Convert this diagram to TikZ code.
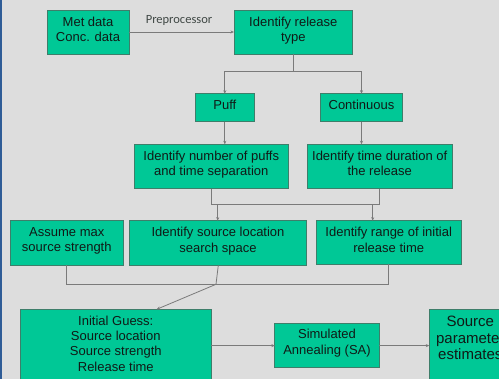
\documentclass[tikz,border=0pt]{standalone}
\usepackage{fontspec}
\setmainfont{Liberation Sans}
\newfontfamily\prepfont{Carlito}
\usetikzlibrary{arrows.meta,calc}
\definecolor{bgc}{HTML}{DDDDDD}
\definecolor{edgeblue}{HTML}{2F5C96}
\definecolor{boxfill}{HTML}{00C896}
\definecolor{boxline}{HTML}{3E7E6A}
\definecolor{linec}{HTML}{7A7A7A}
\definecolor{txtc}{HTML}{101A16}
\tikzset{
  box/.style={draw=boxline, fill=boxfill, line width=0.9pt, inner sep=0pt, outer sep=0pt},
  txt/.style={anchor=north, align=center, inner sep=0pt, text=txtc, font=\fontsize{13}{15.4}\selectfont},
  bigtxt/.style={anchor=north, align=center, inner sep=0pt, text=txtc, font=\fontsize{15}{16.5}\selectfont},
  conn/.style={draw=linec, line width=0.8pt},
  arr/.style={conn, -{Stealth[length=3.5pt,width=3pt]}},
}
\begin{document}
\begin{tikzpicture}[x=1pt,y=-1pt]
\useasboundingbox (0,0) rectangle (499,379);
\clip (0,0) rectangle (499,379);
\fill[bgc] (0,0) rectangle (499,379);
\fill[edgeblue] (0,0) rectangle (1.5,379);

% boxes
\node[box, minimum width=82, minimum height=44] (met) at (88,32) {};
\node[txt] (mett) at ($(met.north)+(0,6.6)$) {Met data\\Conc. data};
\node[box, minimum width=118.7, minimum height=44] (rel) at (293.3,32) {};
\node[txt] (relt) at ($(rel.north)+(0,6.6)$) {Identify release\\type};

\node[box, minimum width=59.7, minimum height=28] (puff) at (224.8,107.7) {};
\node[txt] (pufft) at ($(puff.north)+(0,6.2)$) {Puff};
\node[box, minimum width=82.4, minimum height=28] (cont) at (361.5,107.7) {};
\node[txt] (contt) at ($(cont.north)+(0,6.2)$) {Continuous};

\node[box, minimum width=154.7, minimum height=44.4] (num) at (211.3,166.5) {};
\node[txt] (numt) at ($(num.north)+(0,6.6)$) {Identify number of puffs\\and time separation};
\node[box, minimum width=145.3, minimum height=44.4] (dur) at (379.7,166.5) {};
\node[txt] (durt) at ($(dur.north)+(0,6.6)$) {Identify time duration of\\the release};

\node[box, minimum width=113.7, minimum height=44.6] (max) at (66.8,243) {};
\node[txt] (maxt) at ($(max.north)+(0,6.3)$) {Assume max\\source strength};
\node[box, minimum width=177.4, minimum height=44.6] (src) at (218,243) {};
\node[txt] (srct) at ($(src.north)+(0,6.3)$) {Identify source location\\search space};
\node[box, minimum width=145.3, minimum height=43.6] (rng) at (388.7,242.5) {};
\node[txt] (rngt) at ($(rng.north)+(0,6.3)$) {Identify range of initial\\release time};

\node[box, minimum width=191, minimum height=80] (init) at (115.8,349.3) {};
\node[txt] (initt) at ($(init.north)+(0,6.2)$) {Initial Guess:\\Source location\\Source strength\\Release time};
\node[box, minimum width=104.3, minimum height=44.7] (sa) at (327,345.6) {};
\node[txt] (sat) at ($(sa.north)+(0,6)$) {Simulated\\Annealing (SA)};
\node[box, minimum width=82, minimum height=80] (est) at (470.3,349.3) {};
\node[bigtxt] (estt) at ($(est.north)+(0,6.8)$) {Source\\parameter\\estimates};

% connectors
\draw[arr] (met.east) -- (rel.west);
\node[inner sep=0pt, text=txtc!80, font=\prepfont\fontsize{12.5}{14}\selectfont] (prep) at (179,21) {Preprocessor};

\coordinate (b1) at (293.3,71.3);
\draw[conn] (rel.south) -- (b1);
\draw[arr] (b1) -| (puff.north);
\draw[arr] (b1) -| (cont.north);
\draw[arr] (puff.south) -- (puff.south |- num.north);
\draw[arr] (cont.south) -- (cont.south |- dur.north);

\coordinate (h1) at (211.3,204.3);
\coordinate (h2) at (379.7,204.3);
\draw[conn] (num.south) -- (h1) -- (h2) -- (dur.south);
\coordinate (d1) at (217.7,204.3);
\coordinate (d2) at (372.7,204.3);
\draw[arr] (d1) -- (d1 |- src.north);
\draw[arr] (d2) -- (d2 |- rng.north);

\coordinate (g1) at (66.8,284.3);
\coordinate (g2) at (388.7,284.3);
\coordinate (g3) at (216,284.3);
\coordinate (it) at (156.7,309.3);
\draw[conn] (max.south) -- (g1) -- (g2) -- (rng.south);
\draw[conn] ($(src.south)+(0.3,0)$) -- (g3);
\draw[arr] (g3) -- (it);

\draw[arr] (init.east |- sa.west) -- (sa.west);
\draw[arr] (sa.east) -- (sa.east -| est.west);
\end{tikzpicture}
\end{document}
